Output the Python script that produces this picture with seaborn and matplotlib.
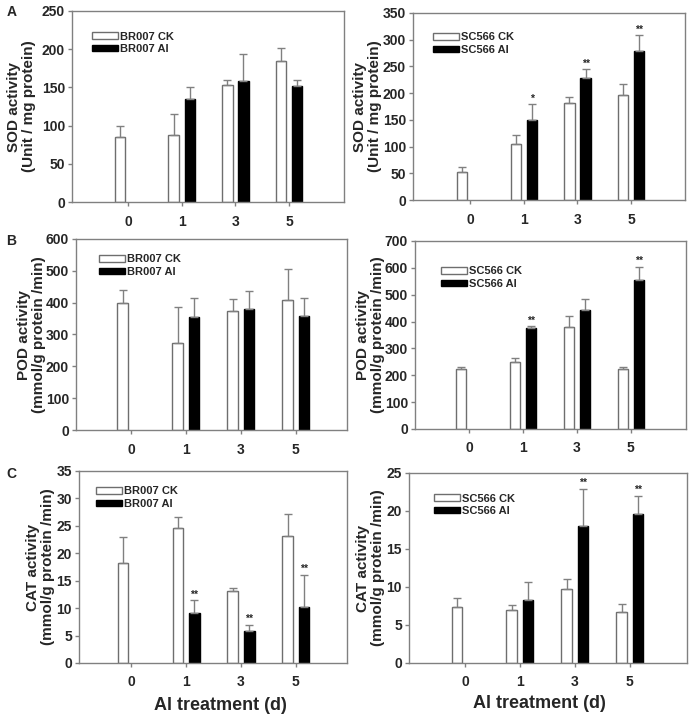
import numpy as np
import pandas as pd
import matplotlib
matplotlib.use("Agg")
import matplotlib.pyplot as plt
import seaborn as sns
from matplotlib.patches import Patch

nan = np.nan

# ---------------- data ----------------
days = ["0", "1", "3", "5"]

sod_br_ck = [85, 88, 153, 184]
sod_br_ck_err = [14, 27, 7, 18]
sod_br_al = [nan, 135, 159, 152]
sod_br_al_err = [nan, 15, 35, 8]
sod_br_sig = ["", "", "", ""]

sod_sc_ck = [52, 105, 181, 197]
sod_sc_ck_err = [9, 17, 12, 20]
sod_sc_al = [nan, 149, 229, 278]
sod_sc_al_err = [nan, 30, 16, 30]
sod_sc_sig = ["", "*", "**", "**"]

pod_br_ck = [399, 274, 373, 409]
pod_br_ck_err = [41, 111, 39, 97]
pod_br_al = [nan, 356, 381, 357]
pod_br_al_err = [nan, 59, 57, 58]
pod_br_sig = ["", "", "", ""]

pod_sc_ck = [224, 249, 378, 222]
pod_sc_ck_err = [8, 17, 43, 10]
pod_sc_al = [nan, 377, 444, 554]
pod_sc_al_err = [nan, 6, 39, 50]
pod_sc_sig = ["", "**", "", "**"]

cat_br_ck = [18.3, 24.6, 13.2, 23.2]
cat_br_ck_err = [4.6, 2.0, 0.5, 3.9]
cat_br_al = [nan, 9.1, 5.9, 10.2]
cat_br_al_err = [nan, 2.3, 1.1, 5.9]
cat_br_sig = ["", "**", "**", "**"]

cat_sc_ck = [7.4, 7.0, 9.8, 6.7]
cat_sc_ck_err = [1.1, 0.6, 1.3, 1.1]
cat_sc_al = [nan, 8.3, 18.0, 19.6]
cat_sc_al_err = [nan, 2.4, 4.9, 2.4]
cat_sc_sig = ["", "", "**", "**"]

sod_label = "SOD activity\n(Unit / mg protein)"
pod_label = "POD activity\n(mmol/g protein /min)"
cat_label = "CAT activity\n(mmol/g protein /min)"
x_label = "Al treatment (d)"

# ---------------- style ----------------
sns.set_theme(style="ticks")
plt.rcParams["font.family"] = ["Liberation Sans", "DejaVu Sans"]
plt.rcParams["font.weight"] = "bold"
plt.rcParams["axes.labelweight"] = "bold"

W, H = 694, 723
fig = plt.figure(figsize=(W / 100, H / 100), dpi=100)
fig.patch.set_facecolor("white")

GRAY = "#808080"
EDGE = "#6e6e6e"


def add_ax(l, r, t, b):
    return fig.add_axes([l / W, 1 - b / H, (r - l) / W, (b - t) / H])


def panel(rect, ck, ck_err, al, al_err, sig, cultivar, ymax, ystep, ylabel,
          xlim, label_off, leg_px, xlab=None):
    l, r, t, b = rect
    ax = add_ax(l, r, t, b)
    ck_name, al_name = f"{cultivar} CK", f"{cultivar} Al"
    df = pd.DataFrame({
        "day": days * 2,
        "value": list(ck) + list(al),
        "group": [ck_name] * 4 + [al_name] * 4,
    }).dropna()
    sns.barplot(data=df, x="day", y="value", hue="group", order=days,
                hue_order=[ck_name, al_name],
                palette={ck_name: "white", al_name: "black"},
                saturation=1, width=0.6, gap=0.36, errorbar=None,
                linewidth=1.0, legend=False, ax=ax)
    errs = [ck_err, al_err]
    edgecols = [EDGE, "black"]
    for hi, cont in enumerate(ax.containers[:2]):
        for bar in cont:
            h = bar.get_height()
            if not np.isfinite(h):
                continue
            bar.set_edgecolor(edgecols[hi])
            cx = bar.get_x() + bar.get_width() / 2
            idx = int(round(cx))
            e = errs[hi][idx]
            ax.errorbar(cx, h, yerr=[[0], [e]], fmt="none", ecolor=GRAY,
                        elinewidth=1.0, capsize=3, capthick=1.0, zorder=3)
            if hi == 1 and sig[idx]:
                ax.annotate(sig[idx], (cx, h + e), xytext=(0, 0.5),
                            textcoords="offset points", ha="center",
                            va="bottom", fontsize=7.5, fontweight="bold")
    ax.set_xlim(*xlim)
    ax.set_ylim(0, ymax)
    ax.set_yticks(np.arange(0, ymax + ystep / 2, ystep))
    for s in ax.spines.values():
        s.set_visible(True)
        s.set_color(GRAY)
        s.set_linewidth(1.0)
    ax.tick_params(axis="both", direction="out", length=3, width=1,
                   color=GRAY, labelsize=10, pad=2)
    for lab in ax.get_xticklabels() + ax.get_yticklabels():
        lab.set_fontweight("bold")
    ax.tick_params(axis="x", pad=6)
    ax.set_ylabel(ylabel, fontsize=11, fontweight="bold", linespacing=1.1)
    ax.yaxis.set_label_coords(label_off / (r - l), 0.5)
    if xlab:
        ax.set_xlabel(xlab[0], fontsize=13, fontweight="bold")
        ax.xaxis.set_label_coords(xlab[1], xlab[2] / (b - t))
    else:
        ax.set_xlabel("")
    # legend
    hx, hy = leg_px
    handles = [Patch(facecolor="white", edgecolor=EDGE, linewidth=1.0),
               Patch(facecolor="black", edgecolor="black", linewidth=1.0)]
    ax.legend(handles, [ck_name, al_name], loc="upper left",
              bbox_to_anchor=((hx - l) / (r - l), 1 - (hy - 6.5 - t) / (b - t)),
              frameon=False, fontsize=8, handlelength=2.3, handleheight=0.5,
              handletextpad=0.25, labelspacing=0.2, borderpad=0,
              borderaxespad=0, prop={"weight": "bold", "size": 8})
    return ax


panel((72, 344, 11, 202), sod_br_ck, sod_br_ck_err, sod_br_al, sod_br_al_err,
      sod_br_sig, "BR007", 250, 50, sod_label, (-1.04, 4.02), -36, (92, 38))
panel((413, 685, 13, 200), sod_sc_ck, sod_sc_ck_err, sod_sc_al, sod_sc_al_err,
      sod_sc_sig, "SC566", 350, 50, sod_label, (-1.06, 4.0), -31, (433, 39))
panel((76, 347, 239, 430), pod_br_ck, pod_br_ck_err, pod_br_al, pod_br_al_err,
      pod_br_sig, "BR007", 600, 100, pod_label, (-1.0, 3.93), -30, (99, 261))
panel((415, 686, 241, 429), pod_sc_ck, pod_sc_ck_err, pod_sc_al, pod_sc_al_err,
      pod_sc_sig, "SC566", 700, 100, pod_label, (-1.0, 4.02), -30, (441, 273))
panel((79, 347, 471, 663), cat_br_ck, cat_br_ck_err, cat_br_al, cat_br_al_err,
      cat_br_sig, "BR007", 35, 5, cat_label, (-0.95, 3.93), -24, (96, 493),
      xlab=(x_label, 0.526, -34))
panel((409, 687, 473, 663), cat_sc_ck, cat_sc_ck_err, cat_sc_al, cat_sc_al_err,
      cat_sc_sig, "SC566", 25, 5, cat_label, (-1.02, 4.04), -24, (434, 500),
      xlab=(x_label, 0.468, -32))

for letter, (px, py) in {"A": (12, 12), "B": (11, 241), "C": (11, 474)}.items():
    fig.text(px / W, 1 - py / H, letter, fontsize=10, fontweight="bold",
             ha="center", va="center")

fig.savefig("out.png", dpi=100, facecolor="white")
